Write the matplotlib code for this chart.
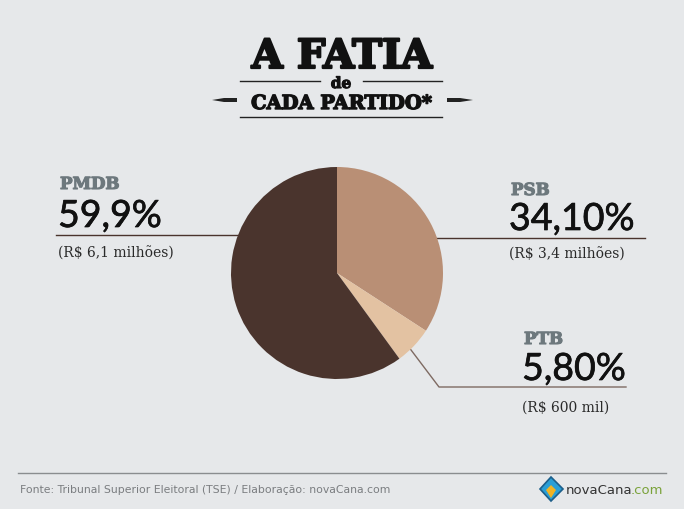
import numpy as np
from matplotlib import pyplot as plt
from matplotlib.patches import Polygon
import matplotlib.patheffects as pe

# data
parties = ['PSB', 'PTB', 'PMDB']
shares = [34.1, 5.8, 59.9]
share_labels = ['34,10%', '5,80%', '59,9%']
money_labels = ['(R$ 3,4 milhões)', '(R$ 600 mil)', '(R$ 6,1 milhões)']
colors = ['#b98f75', '#e3c2a2', '#4a342d']

W, H = 684, 510
fig = plt.figure(figsize=(W / 100, H / 100), dpi=100)
fig.patch.set_facecolor('#e6e8ea')

# overlay in pixel coordinates
ov = fig.add_axes([0, 0, 1, 1])
ov.set_xlim(0, W)
ov.set_ylim(H, 0)
ov.axis('off')

# pie
cx, cy, r = 337, 274, 106
pax = fig.add_axes([(cx - r) / W, (H - cy - r) / H, 2 * r / W, 2 * r / H])
pax.pie(shares, colors=colors, startangle=90, counterclock=False,
        wedgeprops=dict(linewidth=0))
pax.set_aspect('equal')
pax.set_xlim(-1, 1)
pax.set_ylim(-1, 1)

slab = 'DejaVu Serif'
sans = 'Lato'
heavy = [pe.withStroke(linewidth=1.6, foreground='#111111')]

# title
ov.text(342, 69, 'A FATIA', ha='center', va='baseline', fontsize=29,
        fontweight='bold', family=slab, color='#111111', path_effects=heavy)
ov.text(341, 89, 'de', ha='center', va='baseline', fontsize=11,
        fontweight='bold', family=slab, color='#111111',
        path_effects=[pe.withStroke(linewidth=0.8, foreground='#111111')])
ov.text(342, 110, 'CADA PARTIDO*', ha='center', va='baseline', fontsize=14,
        fontweight='bold', family=slab, color='#111111',
        path_effects=[pe.withStroke(linewidth=1, foreground='#111111')])
ov.plot([240, 320], [82, 82], color='#222222', lw=1)
ov.plot([363, 442], [82, 82], color='#222222', lw=1)
ov.plot([240, 442], [118, 118], color='#222222', lw=1)
ov.add_patch(Polygon([[212, 101], [224, 99], [237, 99], [237, 103], [224, 103]],
                     closed=True, color='#222222', lw=0))
ov.add_patch(Polygon([[447, 99], [460, 99], [473, 101], [460, 103], [447, 103]],
                     closed=True, color='#222222', lw=0))

# labels
label_pos = {'PMDB': (58, 190, 228, 258), 'PSB': (509, 196, 231, 259),
             'PTB': (522, 345, 381, 412)}
for i, p in enumerate(parties):
    x, y1, y2, y3 = label_pos[p]
    ov.text(x + 2, y1, p, ha='left', va='baseline', fontsize=12, fontweight='bold',
            family=slab, color='#6d787d',
            path_effects=[pe.withStroke(linewidth=0.8, foreground='#6d787d')])
    ov.text(x, y2, share_labels[i], ha='left', va='baseline', fontsize=27,
            family=sans, color='#111111',
            path_effects=[pe.withStroke(linewidth=0.5, foreground='#111111')])
    ov.text(x, y3, money_labels[i], ha='left', va='baseline', fontsize=10,
            family=slab, color='#2a2a2a')

# connector lines
ov.plot([56, 240], [236, 236], color='#4a342d', lw=1)
ov.plot([390, 645], [239, 239], color='#4a342d', lw=1)
ov.plot([405, 439, 626], [343, 388, 388], color='#7e6a62', lw=1)

# footer
ov.plot([18, 666], [474, 474], color='#8a8d8f', lw=1)
ov.text(20, 493, 'Fonte: Tribunal Superior Eleitoral (TSE) / Elaboração: novaCana.com',
        ha='left', va='baseline', fontsize=7.8, family='DejaVu Sans', color='#7a7d80')
ov.add_patch(Polygon([[551, 478], [563, 490], [551, 502], [540, 490]],
                     closed=True, facecolor='#2a9fd6', edgecolor='#1d5f8a', lw=1.2))
ov.add_patch(Polygon([[551, 486], [556, 491], [551, 499], [546, 491]],
                     closed=True, color='#f0b323', lw=0))
logo = ov.text(566, 494, 'novaCana', ha='left', va='baseline', fontsize=9.5,
               family='DejaVu Sans', color='#333333')
ov.annotate('.com', xy=(1, 0), xycoords=logo, xytext=(-1.5, 0),
            textcoords='offset points', ha='left', va='bottom',
            fontsize=9.5, family='DejaVu Sans', color='#7aa23a')

fig.savefig('out.png', dpi=100, facecolor=fig.get_facecolor())
